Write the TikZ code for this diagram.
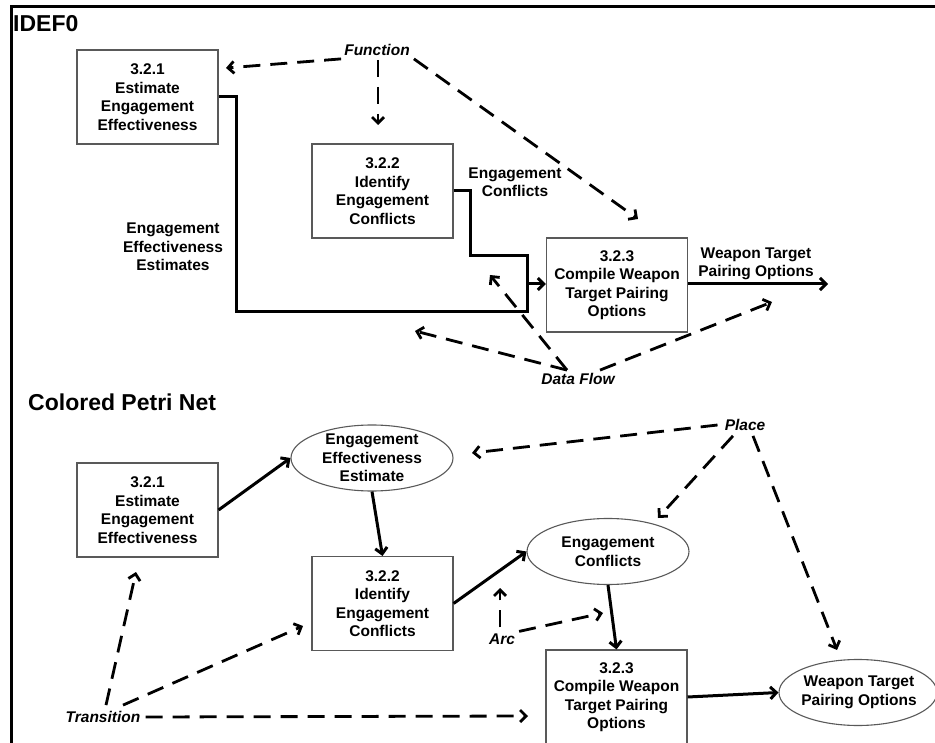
\documentclass[tikz,border=0pt]{standalone}
\usepackage{fontspec}
\setmainfont{Liberation Sans}
\usetikzlibrary{arrows.meta,shapes.geometric}

\begin{document}
\begin{tikzpicture}[x=1pt,y=-1pt,
  every node/.style={font=\fontsize{15.5}{18.5}\selectfont\bfseries, align=center, inner sep=0pt},
  procbox/.style={draw=black!65, line width=1.1pt, rectangle, minimum width=141pt, minimum height=94pt},
  placeell/.style={draw=black!65, line width=1.1pt, ellipse, minimum width=#1, minimum height=66pt},
  placeell/.default=162pt,
  tip/.style={-{Straight Barb[length=6pt,width=12pt]}},
  flow/.style={line width=3pt, line join=miter},
  hint/.style={line width=2.8pt, dash pattern=on 17pt off 10pt, tip},
  note/.style={font=\fontsize{15.5}{18.5}\selectfont\bfseries\itshape, inner sep=1pt},
  heading/.style={font=\fontsize{23}{27}\selectfont\bfseries, anchor=base west},
]
\useasboundingbox (0,0) rectangle (935,743);

% outer frame (top and left edges only)
\draw[line width=3pt] (11.5,743) -- (11.5,6.5) -- (935,6.5);

% ---------------- IDEF0 ----------------
\node[heading] (h1) at (13,32) {IDEF0};

\node[procbox] (a1) at (147.5,97)  {3.2.1\\Estimate\\Engagement\\Effectiveness};
\node[procbox] (a2) at (382.5,191) {3.2.2\\Identify\\Engagement\\Conflicts};
\node[procbox] (a3) at (617,285)   {3.2.3\\Compile Weapon\\Target Pairing\\Options};

\node (l1) at (173,247) {Engagement\\Effectiveness\\Estimates};
\node (l2) at (515,182) {Engagement\\Conflicts};
\node (l3) at (756,264) {Weapon Target\\Pairing Options};

\coordinate (jn)  at (527,284);
\coordinate (out) at (828,284);

% data paths into 3.2.3
\draw[flow] (a1.east) -| (236,312) -- (527,312) -- (jn);
\draw[flow] (a2.east) -| (470,256) -| (jn);
\draw[flow, tip] (jn) -- (a3.west |- jn);
\draw[flow, tip] (a3.east |- out) -- (out);

% legend: Function
\node[note] (fn) at (377,50) {Function};
\coordinate (fL) at (226,68);
\coordinate (fD) at (378,125);
\coordinate (fR) at (638,219);
\draw[hint] ([xshift=-2pt,yshift=-2pt]fn.south west) -- (fL);
\draw[hint] ([xshift=1pt,yshift=-3pt]fn.south) -- (fD);
\draw[hint] ([xshift=3pt,yshift=-2pt]fn.south east) -- (fR);

% legend: Data Flow
\node[note] (df) at (578,379) {Data Flow};
\coordinate (dL) at (415,331);
\coordinate (dU) at (490,275);
\coordinate (dR) at (772,302);
\draw[hint] ([xshift=-11pt,yshift=2pt]df.north) -- (dL);
\draw[hint] ([xshift=-11pt,yshift=2pt]df.north) -- (dU);
\draw[hint] ([xshift=22pt,yshift=2pt]df.north) -- (dR);

% ---------------- Colored Petri Net ----------------
\node[heading] (h2) at (28,410) {Colored Petri Net};

\node[procbox] (b1) at (147.5,510)  {3.2.1\\Estimate\\Engagement\\Effectiveness};
\node[procbox] (b2) at (382.5,603.5) {3.2.2\\Identify\\Engagement\\Conflicts};
\node[procbox] (b3) at (616.5,697)  {3.2.3\\Compile Weapon\\Target Pairing\\Options};

\node[placeell] (p1) at (372,458) {};
\node at (p1) {Engagement\\Effectiveness\\Estimate};
\node[placeell] (p2) at (608,551.5) {};
\node at (p2) {Engagement\\Conflicts};
\node[placeell=158pt] (p3) at (858,692.5) {};
\node at ([xshift=1pt]p3.center) {Weapon Target\\Pairing Options};

\draw[flow, tip] (b1.east) -- (p1.west);
\draw[flow, tip] (p1.south) -- (b2.north);
\draw[flow, tip] (b2.east) -- (p2.west);
\draw[flow, tip] (p2.south) -- (b3.north);
\draw[flow, tip] (b3.east) -- (p3.west);

% legend: Place
\node[note] (pl) at (745,425) {Place};
\coordinate (pL) at (472,453);
\coordinate (pE) at (658,518);
\coordinate (pW) at (837,650);
\draw[hint] ([xshift=-6pt]pl.west) -- (pL);
\draw[hint] ([xshift=-12pt,yshift=-4pt]pl.south) -- (pE);
\draw[hint] ([xshift=8pt,yshift=-4pt]pl.south) -- (pW);

% legend: Transition
\node[note] (tr) at (103,717) {Transition};
\coordinate (tU) at (136,572);
\coordinate (tM) at (303,626);
\coordinate (tR) at (528,716);
\draw[hint] ([xshift=3pt,yshift=5pt]tr.north) -- (tU);
\draw[hint] ([xshift=20pt,yshift=5pt]tr.north) -- (tM);
\draw[hint] ([xshift=4pt]tr.east) -- (tR);

% legend: Arc
\node[note] (ar) at (502,639) {Arc};
\coordinate (aU) at (500,588);
\coordinate (aR) at (603,613);
\draw[hint] ([xshift=-2pt,yshift=5pt]ar.north) -- (aU);
\draw[hint] ([xshift=3pt,yshift=1pt]ar.north east) -- (aR);
\end{tikzpicture}
\end{document}
